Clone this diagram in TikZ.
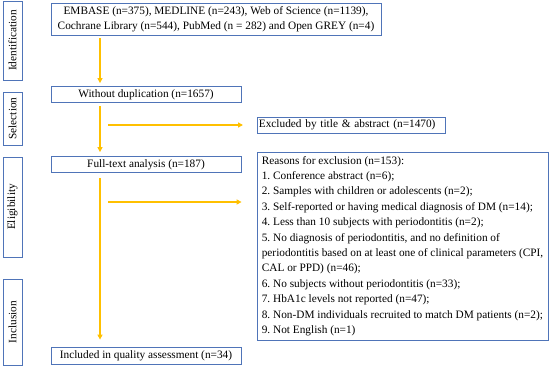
\documentclass[tikz,border=0pt]{standalone}
\usepackage{fontspec}
\setmainfont{Liberation Serif}
\frenchspacing
\usetikzlibrary{arrows.meta}
\definecolor{boxblue}{HTML}{4F74B8}
\definecolor{arrowgold}{HTML}{FFC000}
\newlength\mwsum
\newsavebox\mwbox
\newcommand\measurefontsize{%
  {\fontsize{10}{12}\selectfont\frenchspacing
  \sbox\mwbox{periodontitis based on at least one of clinical parameters (CPI,}\global\mwsum=\wd\mwbox
  \sbox\mwbox{8. Non-DM individuals recruited to match DM patients (n=2);}\global\advance\mwsum by\wd\mwbox
  \sbox\mwbox{EMBASE (n=375), MEDLINE (n=243), Web of Science (n=1139),}\global\advance\mwsum by\wd\mwbox
  \sbox\mwbox{Cochrane Library (n=544), PubMed (n = 282) and Open GREY (n=4)}\global\advance\mwsum by\wd\mwbox}%
  \ifdim\mwsum<100pt \global\mwsum=1100pt\fi
  \pgfmathsetmacro\fsz{10*1184/\mwsum}%
  \global\let\fsz\fsz}
\begin{document}
\measurefontsize
\begin{tikzpicture}[x=1pt,y=-1pt,
  box/.style={draw=boxblue,line width=0.8pt,inner sep=0pt,align=center,font=\fontsize{\fsz}{15}\selectfont\frenchspacing},
  stage/.style={box,rotate=90},
  flow/.style={draw=arrowgold,line width=1.3pt,-{Triangle[length=5pt,width=5pt]}}]
\useasboundingbox (0,0) rectangle (550,367);
% stages
\node[stage,minimum width=79pt,minimum height=19pt] (s1) at (12.5,40.5) {Identification};
\node[stage,minimum width=53pt,minimum height=19pt] (s2) at (12.5,118.5) {Selection};
\node[stage,minimum width=100pt,minimum height=19pt] (s3) at (12.5,207) {Eligibility};
\node[stage,minimum width=86pt,minimum height=19pt] (s4) at (12.5,322) {Inclusion};
% boxes
\node[box,minimum width=330pt,minimum height=32pt] (b1) at (216,19) {EMBASE (n=375), MEDLINE (n=243), Web of Science (n=1139),\\Cochrane Library (n=544), PubMed (n = 282) and Open GREY (n=4)};
\node[box,minimum width=190pt,minimum height=16pt] (b2) at (146,94.5) {Without duplication (n=1657)};
\node[box,minimum width=188pt,minimum height=16pt,anchor=west,align=left,text width=185pt,inner xsep=1.5pt] (ex1) at (257,125) {Excluded by title \& abstract (n=1470)};
\node[box,minimum width=190pt,minimum height=16pt] (b3) at (146,164.5) {Full-text analysis (n=187)};
\node[box,minimum width=291pt,minimum height=188pt,align=left,font=\fontsize{\fsz}{15.4}\selectfont\frenchspacing] (ex2) at (402.5,246) {Reasons for exclusion (n=153):\\
1. Conference abstract (n=6);\\
2. Samples with children or adolescents (n=2);\\
3. Self-reported or having medical diagnosis of DM (n=14);\\
4. Less than 10 subjects with periodontitis (n=2);\\
5. No diagnosis of periodontitis, and no definition of\\
periodontitis based on at least one of clinical parameters (CPI,\\
CAL or PPD) (n=46);\\
6. No subjects without periodontitis (n=33);\\
7. HbA1c levels not reported (n=47);\\
8. Non-DM individuals recruited to match DM patients (n=2);\\
9. Not English (n=1)};
\node[box,minimum width=190pt,minimum height=17pt] (b4) at (146,355.5) {Included in quality assessment (n=34)};
% arrows
\coordinate (h1s) at (108,125);
\coordinate (h2s) at (108,202);
\draw[flow,shorten <=3pt,shorten >=3pt] (b1.south -| 100,0) -- (b2.north -| 100,0);
\draw[flow,shorten <=3pt,shorten >=4pt] (b2.south -| 100,0) -- (b3.north -| 100,0);
\draw[flow,shorten <=5pt,shorten >=7pt] (b3.south -| 100,0) -- (b4.north -| 100,0);
\draw[flow,shorten >=14pt] (h1s) -- (ex1.west);
\draw[flow,shorten >=15pt] (h2s) -- (ex2.west |- h2s);
\end{tikzpicture}
\end{document}
